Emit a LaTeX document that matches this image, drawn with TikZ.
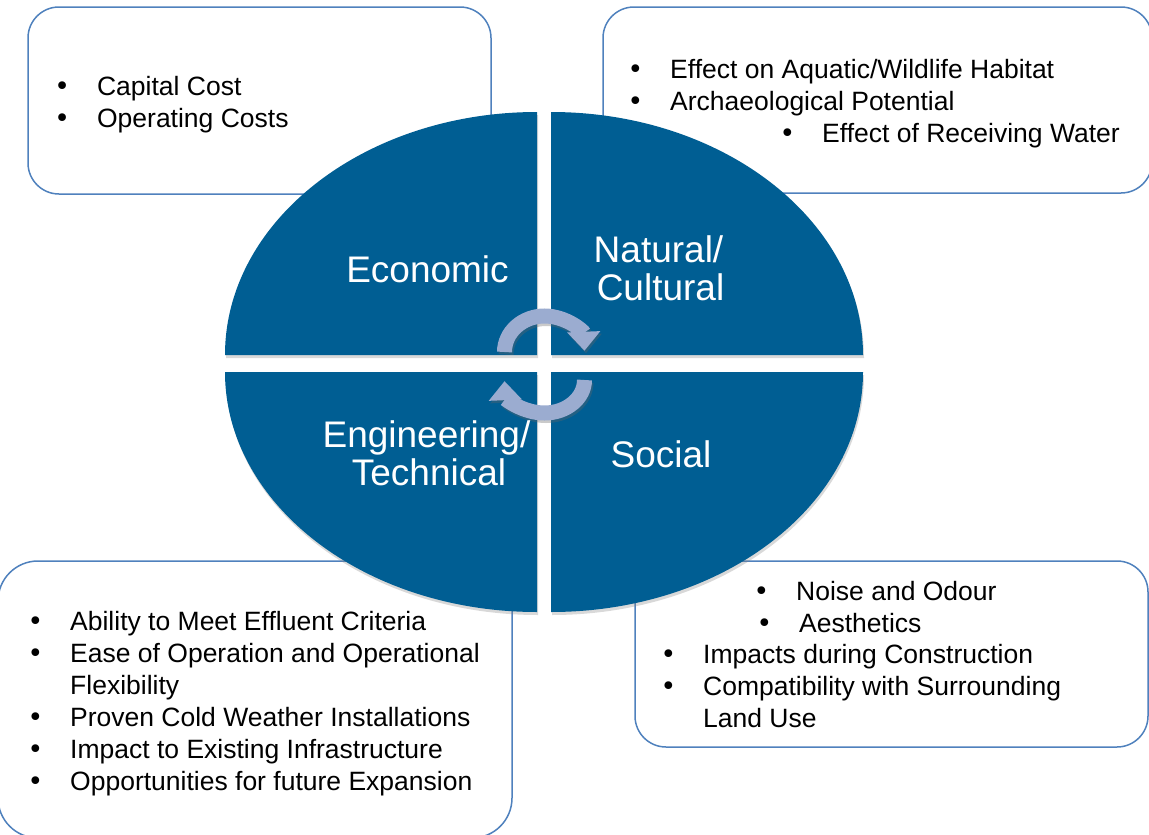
\documentclass[tikz,border=0pt]{standalone}
\usepackage{fontspec}
\setmainfont{Liberation Sans}
\newfontfamily\bulletfont{DejaVu Sans}
\usetikzlibrary{positioning}
\usetikzlibrary{shadows}
\usetikzlibrary{arrows.meta}
\definecolor{pie blue}{RGB}{0,94,147}
\definecolor{frame blue}{RGB}{79,129,189}
\definecolor{cycle blue}{RGB}{155,172,208}
\colorlet{shadow colour}{black!60}
% A bullet followed by the usual tab
\newcommand{\bul}{\makebox[39.5pt][l]{\hspace*{-3.2pt}{\bulletfont •}}}
\tikzset{
    % Boxes holding the lists of criteria
    list box/.style={
        draw=frame blue, line width=1.5pt, fill=white,
        rounded corners=31pt, inner sep=0},
    item/.style={anchor=base west, inner sep=0,
        font=\fontsize{26.5}{32}\selectfont},
%
    % The four quarters of the ellipse
    quad/.style={fill=pie blue,
        drop shadow={shadow xshift=1pt, shadow yshift=-3pt, opacity=0.3}},
    quad label/.style={anchor=base, inner sep=0, text=white,
        font=\fontsize{37}{38}\selectfont},
%
    % Curved arrows in the middle
    cycle/.style={draw=cycle blue, line width=15pt,
        -{Triangle[width=32pt, length=19pt]}},
    cycle shadow/.style={cycle, draw=shadow colour, opacity=0.35,
        xshift=1.5pt, yshift=-2.5pt},
}
\begin{document}
\begin{tikzpicture}[x=1pt, y=-1pt]
\useasboundingbox (0,0) rectangle (1149,835);
\clip (0,0) rectangle (1149,835);

% list boxes
\path
    (259.5,100.5) node [list box, minimum width=463pt, minimum height=187pt] (econ box) {}
    (877.5,100) node [list box, minimum width=549pt, minimum height=186pt] (nat box) {}
    (255,699.5) node [list box, rounded corners=40pt,
        minimum width=514pt, minimum height=277pt] (eng box) {}
    (891.5,654) node [list box, minimum width=513pt, minimum height=186pt] (soc box) {};

% quarters
\path [quad] (537,355) -- (225,355)
    arc [start angle=180, end angle=270, x radius=312, y radius=243] -- cycle;
\path [quad] (551,355) -- (551,112)
    arc [start angle=270, end angle=360, x radius=312, y radius=243] -- cycle;
\path [quad] (537,372) -- (537,612)
    arc [start angle=90, end angle=180, x radius=312, y radius=240] -- cycle;
\path [quad] (551,372) -- (863,372)
    arc [start angle=0, end angle=90, x radius=312, y radius=240] -- cycle;

% arrows
\draw [cycle shadow] (504.5,352)
    arc [start angle=180, end angle=358, x radius=40, y radius=36];
\draw [cycle] (504.5,352)
    arc [start angle=180, end angle=358, x radius=40, y radius=36];
\draw [cycle shadow] (584.5,380)
    arc [start angle=0, end angle=178, x radius=40, y radius=33];
\draw [cycle] (584.5,380)
    arc [start angle=0, end angle=178, x radius=40, y radius=33];

% labels
\path
    (427.5,282) node [quad label] (econ) {Economic}
    (658.5,262) node [quad label] (nat top) {Natural/}
    (660.5,300) node [quad label] (nat bottom) {Cultural}
    (426.5,447) node [quad label] (eng top) {Engineering/}
    (429,485) node [quad label] (eng bottom) {Technical}
    (661,467) node [quad label] (soc) {Social};

% list items
\path
    (57.4,95) node [item] (econ 1) {\bul Capital Cost}
    (57.4,127) node [item] (econ 2) {\bul Operating Costs};
\path
    (630.5,78) node [item] (nat 1) {\bul Effect on Aquatic/Wildlife Habitat}
    (630.5,110) node [item] (nat 2) {\bul Archaeological Potential}
    (782.5,142) node [item] (nat 3) {\bul Effect of Receiving Water};
\path
    (30.5,630) node [item] (eng 1) {\bul Ability to Meet Effluent Criteria}
    (30.5,662) node [item] (eng 2) {\bul Ease of Operation and Operational}
    (70,694) node [item] (eng 2b) {Flexibility}
    (30.5,726) node [item] (eng 3) {\bul Proven Cold Weather Installations}
    (30.5,758) node [item] (eng 4) {\bul Impact to Existing Infrastructure}
    (30.5,790) node [item] (eng 5) {\bul Opportunities for future Expansion};
\path
    (756.5,600) node [item] (soc 1) {\bul Noise and Odour}
    (759.5,632) node [item] (soc 2) {\bul Aesthetics}
    (663.5,663) node [item] (soc 3) {\bul Impacts during Construction}
    (663.5,695) node [item] (soc 4) {\bul Compatibility with Surrounding}
    (703,727) node [item] (soc 4b) {Land Use};

\end{tikzpicture}
\end{document}
